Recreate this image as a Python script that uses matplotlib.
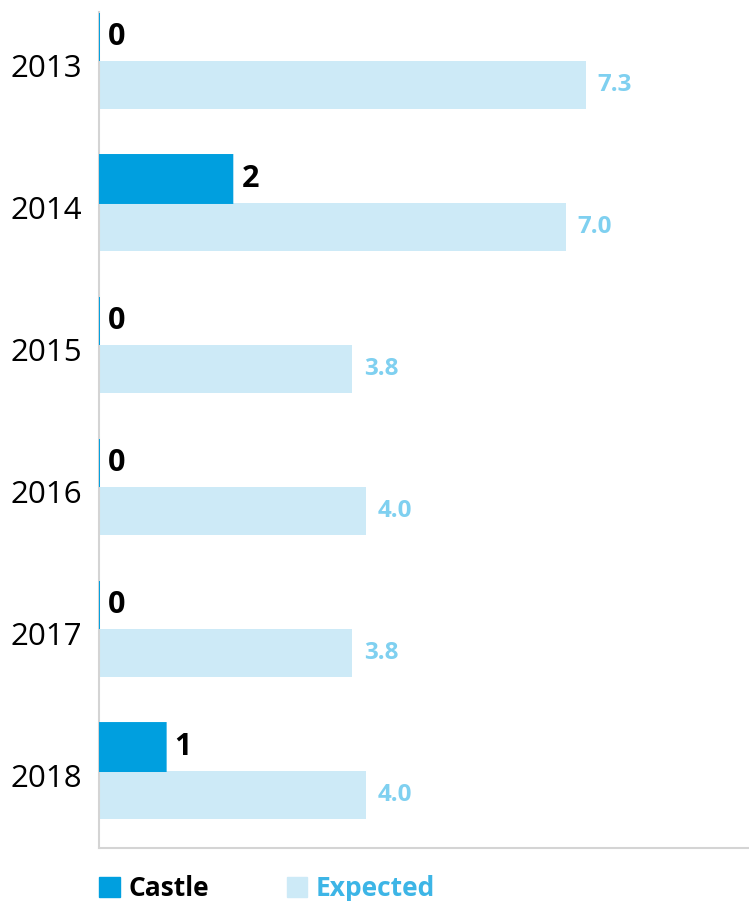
import numpy as np
import matplotlib.pyplot as plt
from matplotlib.patches import Patch

plt.rcParams['font.family'] = ['Open Sans', 'DejaVu Sans']

years = ['2013', '2014', '2015', '2016', '2017', '2018']
castle = [0, 2, 0, 0, 0, 1]
expected = [7.3, 7.0, 3.8, 4.0, 3.8, 4.0]

c_castle = '#009fdf'
c_exp = '#cdeaf7'
c_exp_lbl = '#7fd0f0'
c_exp_leg = '#3db5e6'
c_axis = '#d4d4d4'

fig = plt.figure(figsize=(7.49, 9.01), dpi=100)
ax = fig.add_axes([99/749, 1 - 848/901, 1 - 99/749, (848 - 12)/901])

y = np.arange(len(years))
h = 48/142

bars = ax.barh(y - h/2, castle, height=h, color=c_castle, edgecolor=c_castle,
               linewidth=1.4, zorder=3)
for b in bars:
    b.set_snap(False)
ax.barh(y + h/2, expected, height=h, color=c_exp, linewidth=0)

for yi, v in zip(y, castle):
    ax.annotate(str(v), (v, yi - h/2), xytext=(6.5, 0), textcoords='offset points',
                va='center', ha='left', fontsize=22, fontweight='bold', color='black')
for yi, v in zip(y, expected):
    ax.annotate(f'{v:.1f}', (v, yi + h/2), xytext=(8.5, 0), textcoords='offset points',
                va='center', ha='left', fontsize=17.5, fontweight='bold', color=c_exp_lbl)

ax.set_xlim(0, 9.75)
ax.set_ylim(5.542, -0.345)
ax.set_yticks(y + 0.03)
ax.set_yticklabels(years, fontsize=22.5)
ax.set_xticks([])
ax.tick_params(axis='y', length=0, pad=12)

for s in ['top', 'right']:
    ax.spines[s].set_visible(False)
for s in ['left', 'bottom']:
    ax.spines[s].set_color(c_axis)
    ax.spines[s].set_linewidth(1.5)

handles = [Patch(color=c_castle), Patch(color=c_exp)]
leg = fig.legend(handles, ['Castle', 'Expected'], loc='upper left',
                 bbox_to_anchor=(99/749, 1 - 875/901), ncol=2, frameon=False,
                 prop={'size': 19, 'weight': 'bold'}, borderpad=0, borderaxespad=0,
                 handlelength=0.78, handleheight=0.78, handletextpad=0.33,
                 columnspacing=2.95, labelcolor=['black', c_exp_leg])

fig.savefig('out.png', dpi=100)
